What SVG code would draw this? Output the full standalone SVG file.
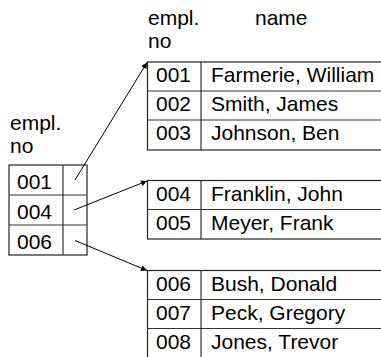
<svg xmlns="http://www.w3.org/2000/svg" width="381" height="357" viewBox="0 0 381 357">
<style>
text{font-family:"Liberation Sans",Arial,sans-serif;font-size:21px;fill:#000}
.b{fill:#fff;stroke:#222;stroke-width:1.2}
.l{stroke:#333;stroke-width:1.2;fill:none}
.c{stroke:#000;stroke-width:1;fill:none;marker-end:url(#ah)}
</style>
<defs>
<marker id="ah" viewBox="0 0 10 10" refX="10" refY="5" markerWidth="7" markerHeight="6" markerUnits="userSpaceOnUse" orient="auto">
<path d="M0,0 L10,5 L0,10 z" fill="#000"/>
</marker>
</defs>
<g id="header-left">
<text x="10" y="130">empl.</text>
<text x="10" y="153">no</text>
</g>
<g id="header-top">
<text x="148" y="25">empl.</text>
<text x="148" y="48">no</text>
<text x="255" y="25">name</text>
</g>
<g id="index">
<rect class="b" x="9" y="165" width="78" height="90"/>
<line class="l" x1="63" y1="165" x2="63" y2="255"/>
<line class="l" x1="9" y1="195" x2="87" y2="195"/>
<line class="l" x1="9" y1="225" x2="87" y2="225" stroke-width="2"/>
<text x="17" y="189">001</text>
<text x="17" y="219">004</text>
<text x="17" y="249">006</text>
</g>
<g id="block1">
<rect class="b" x="147.5" y="62" width="240" height="88"/>
<line class="l" x1="201" y1="62" x2="201" y2="150"/>
<line class="l" x1="147.5" y1="91" x2="381" y2="91"/>
<line class="l" x1="147.5" y1="120" x2="381" y2="120"/>
<text x="156" y="82">001</text><text x="211" y="82">Farmerie, William</text>
<text x="156" y="111">002</text><text x="211" y="111">Smith, James</text>
<text x="156" y="140">003</text><text x="211" y="140">Johnson, Ben</text>
</g>
<g id="block2">
<rect class="b" x="147.5" y="180.5" width="240" height="58.5"/>
<line class="l" x1="201" y1="180.5" x2="201" y2="239"/>
<line class="l" x1="147.5" y1="209.5" x2="381" y2="209.5"/>
<text x="156" y="201">004</text><text x="211" y="201">Franklin, John</text>
<text x="156" y="230">005</text><text x="211" y="230">Meyer, Frank</text>
</g>
<g id="block3">
<rect class="b" x="147.5" y="270.5" width="240" height="100"/>
<line class="l" x1="201" y1="270.5" x2="201" y2="360"/>
<line class="l" x1="147.5" y1="299.5" x2="381" y2="299.5"/>
<line class="l" x1="147.5" y1="328.5" x2="381" y2="328.5"/>
<text x="156" y="291">006</text><text x="211" y="291">Bush, Donald</text>
<text x="156" y="320">007</text><text x="211" y="320">Peck, Gregory</text>
<text x="156" y="349">008</text><text x="211" y="349">Jones, Trevor</text>
</g>
<g id="connectors">
<line class="c" x1="75" y1="180" x2="147" y2="62.5"/>
<line class="c" x1="74" y1="210" x2="147" y2="181"/>
<line class="c" x1="75" y1="240.5" x2="147" y2="270.5"/>
</g>
</svg>
